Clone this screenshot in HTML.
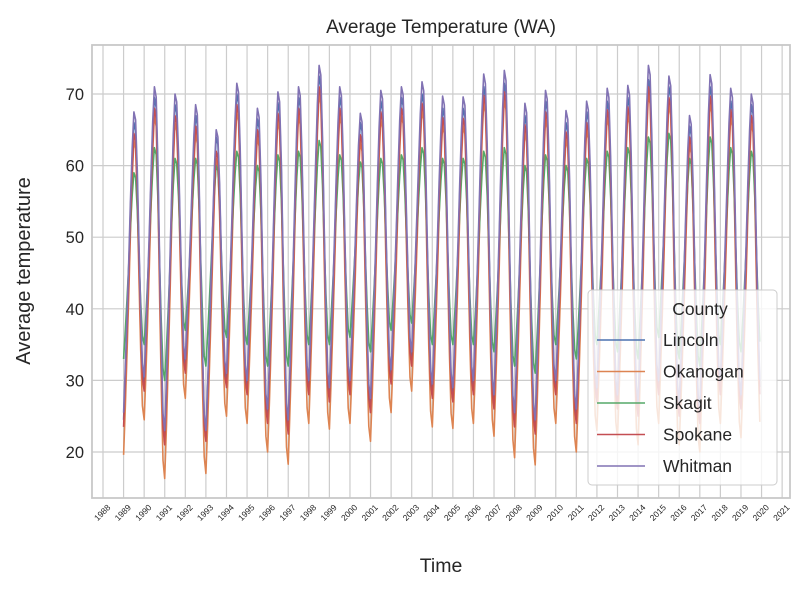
<!DOCTYPE html>
<html><head><meta charset="utf-8"><style>
body{margin:0;background:#fff;font-family:"Liberation Sans","DejaVu Sans",sans-serif}
svg text{font-family:"Liberation Sans","DejaVu Sans",sans-serif;fill:#262626}
</style></head><body>
<svg id="c" width="810" height="591" viewBox="0 0 810 591" xmlns="http://www.w3.org/2000/svg"></svg>
<script>
const yTicks=[20,30,40,50,60,70];
const xTickYears=[1988,1989,1990,1991,1992,1993,1994,1995,1996,1997,1998,1999,2000,2001,2002,2003,2004,2005,2006,2007,2008,2009,2010,2011,2012,2013,2014,2015,2016,2017,2018,2019,2020,2021];
const counties=["Lincoln","Okanogan","Skagit","Spokane","Whitman"];
const firstYear=1989;
const monthProfile=[0,0.15,0.32,0.5,0.7,0.88,1,0.97,0.78,0.5,0.25,0.05];
const peakWhitman=[67.5,71,70,68.5,65,71.5,68,70.3,71,74,71,67.3,70.5,71,71.7,69.7,69.6,72.8,73.3,68.7,70.5,67.7,69,70.8,71.2,74,72.5,67,72.7,70.8,70];
const peakLincoln=[66,69.5,68.5,67,64,70,66.5,68.8,69.5,72.5,69.5,66,69,69.5,70,68,68,71,71.5,67,69,66,67.5,69,69.5,72,71,65.5,71,69,68.5];
const peakSpokane=[64.5,68,67,65.5,62,68.5,65,67.3,68,71,68,64.3,67.5,68,68.7,66.7,66.6,69.8,70.3,65.7,67.5,64.7,66,67.8,68.2,71,69.5,64,69.7,67.8,67];
const peakOkanogan=[63.5,67,66,64.5,61,67.5,64,66.3,67,70,67,63.3,66.5,67,67.7,65.7,65.6,68.8,69.3,64.7,66.5,63.7,65,66.8,67.2,70,68.5,63,68.7,66.8,66];
const peakSkagit=[59,62.5,61,61,60,62,60,61.5,62,63.5,61.5,60.5,61,61.5,62.5,61,61,62,62.5,60,61.5,60,61,62,62.5,64,64.5,61,64,62.5,62];
const lowOkanogan=[19.6,24.5,16.3,27.5,17,25,24,20,18.3,24,23.2,24,21.5,25.5,28.5,23.5,23.3,24,22.2,19.2,18.2,24,20,23,22,21,24,21,20,24,22];
const lowSpokane=[23.5,28.5,21,31,21.5,29,28,24,22.5,28,27,28,25.5,29.5,32,27.5,27,28,26,23.5,22.5,28,24,27,26,25,28,25,24,28,26];
const lowLincoln=[24.5,29.5,22,32,22.5,30,29,25,23.5,29,28,29,26.5,30.5,33,28.5,28,29,27,24.5,23.5,29,25,28,27,26,29,26,25,29,27];
const lowWhitman=[25.5,30.5,23,33,23,31,30,26,24.5,30,29,30,27.5,31.5,34,29.5,29,30,28,25.5,24.5,30,26,29,28,27,30,27,26,30,28];
const lowSkagit=[33,35,30,37,32,36,35,32,32,35,35,36,34,37,38,35,35,35,34,32,31,35,33,35,34,33,36,33,32,35,34];
const seriesPeaks=[peakLincoln,peakOkanogan,peakSkagit,peakSpokane,peakWhitman];
const seriesLows=[lowLincoln,lowOkanogan,lowSkagit,lowSpokane,lowWhitman];
const colors=["#4c72b0","#dd8452","#55a868","#c44e52","#8172b3"];

const NS="http://www.w3.org/2000/svg";
const svg=document.getElementById("c");
const L=92,R=790,T=45,B=498;
function yS(v){return 452-(v-20)*7.16;}
function xS(t){return 103+(t-1988)*20.58;}
function el(tag,attrs,parent){const e=document.createElementNS(NS,tag);for(const k in attrs)e.setAttribute(k,attrs[k]);(parent||svg).appendChild(e);return e;}

const grid=el("g",{});


yTicks.forEach(v=>{el("line",{x1:L,x2:R,y1:yS(v),y2:yS(v),stroke:"#cccccc","stroke-width":1.2},grid);});
xTickYears.forEach(y=>{el("line",{x1:xS(y),x2:xS(y),y1:T,y2:B,stroke:"#cccccc","stroke-width":1.2},grid);});

const data=el("g",{});


counties.forEach((c,i)=>{
  const pk=seriesPeaks[i],lo=seriesLows[i];let d="";
  for(let y=0;y<pk.length;y++){for(let m=0;m<12;m++){
    const low=m<6?lo[y]:(lo[y+1]!==undefined?lo[y+1]:lo[y]);
    const v=low+(pk[y]-low)*monthProfile[m];
    d+=(d?"L":"M")+xS(firstYear+y+m/12).toFixed(1)+","+yS(v).toFixed(1);
  }}
  const p=el("path",{d:d,fill:"none",stroke:colors[i],"stroke-width":1.6,"stroke-linejoin":"round"},data);
  
  
});

const frame=el("rect",{x:L,y:T,width:R-L,height:B-T,fill:"none",stroke:"#c8c8c8","stroke-width":1.8});



yTicks.forEach(v=>{const t=el("text",{x:84,y:yS(v)+6,"text-anchor":"end","font-size":16.5});t.textContent=v;

});
xTickYears.forEach(y=>{const x=xS(y)+8,yy=508;const t=el("text",{x:x,y:yy,"text-anchor":"end","font-size":8.5,transform:"rotate(-45 "+x+" "+yy+")"});t.textContent=y;

});

let t=el("text",{x:441,y:33,"text-anchor":"middle","font-size":19});t.textContent="Average Temperature (WA)";


t=el("text",{x:441,y:572,"text-anchor":"middle","font-size":19.5});t.textContent="Time";


t=el("text",{x:0,y:0,"text-anchor":"middle","font-size":20,transform:"translate(30 271) rotate(-90)"});t.textContent="Average temperature";



const lg=el("g",{});


el("rect",{x:588,y:290,width:189,height:195,rx:4,fill:"#ffffff","fill-opacity":0.8,stroke:"#cccccc"},lg);
t=el("text",{x:700,y:315,"text-anchor":"middle","font-size":17.5},lg);t.textContent="County";


counties.forEach((c,i)=>{const y=340+i*31.5;
  const g=el("g",{},lg);
  
  
  el("line",{x1:597,x2:645,y1:y,y2:y,stroke:colors[i],"stroke-width":1.6},g);
  const tx=el("text",{x:663,y:y+6,"font-size":17.5},g);tx.textContent=c;});
</script>
</body></html>
